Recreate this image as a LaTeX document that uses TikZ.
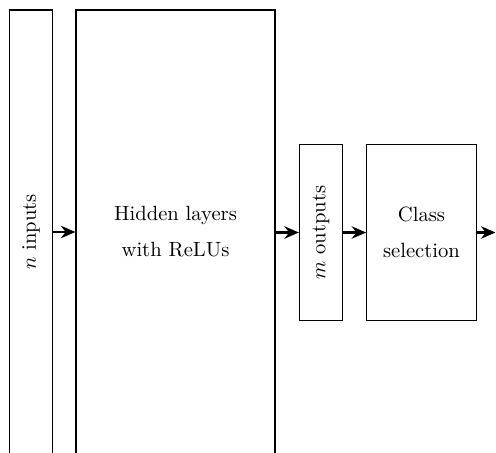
\documentclass[tikz,border=0pt]{standalone}
\usetikzlibrary{arrows.meta}
\begin{document}
\begin{tikzpicture}[x=0.485pt,y=-0.485pt,
  layer/.style={draw,line width=0.6pt,inner sep=0pt,anchor=center},
  flow/.style={line width=1.4pt,-{Stealth[length=7pt,width=6pt]}},
  lbl/.style={align=center,font=\linespread{1.45}\selectfont}]
  \clip (0,0) rectangle (496,452);
  % tall input and hidden columns (run past the lower edge)
  \node[layer,minimum width=43*0.485pt,minimum height=444*0.485pt] (in) at (31,232) {};
  \node[rotate=90] (intext) at (in.center) {$n$ inputs};
  \node[layer,minimum width=199*0.485pt,minimum height=444*0.485pt] (hid) at (175.5,232) {};
  \node[lbl] (hidtext) at (hid.center) {Hidden layers\\with ReLUs};
  % output layer and class selection
  \node[layer,minimum width=43*0.485pt,minimum height=176*0.485pt] (out) at (321,232.5) {};
  \node[rotate=90] (outtext) at (out.center) {$m$ outputs};
  \node[layer,minimum width=109.5*0.485pt,minimum height=176*0.485pt] (cls) at (421.5,232.5) {};
  \node[lbl] (clstext) at (cls.center) {Class\\selection};
  \coordinate (end) at (495.5,232.5);
  % connectors
  \draw[flow] (in.east) -- (hid.west);
  \draw[flow] (hid.east |- out.west) -- (out.west);
  \draw[flow] (out.east) -- (cls.west);
  \draw[flow] (cls.east) -- (end);
\end{tikzpicture}
\end{document}
